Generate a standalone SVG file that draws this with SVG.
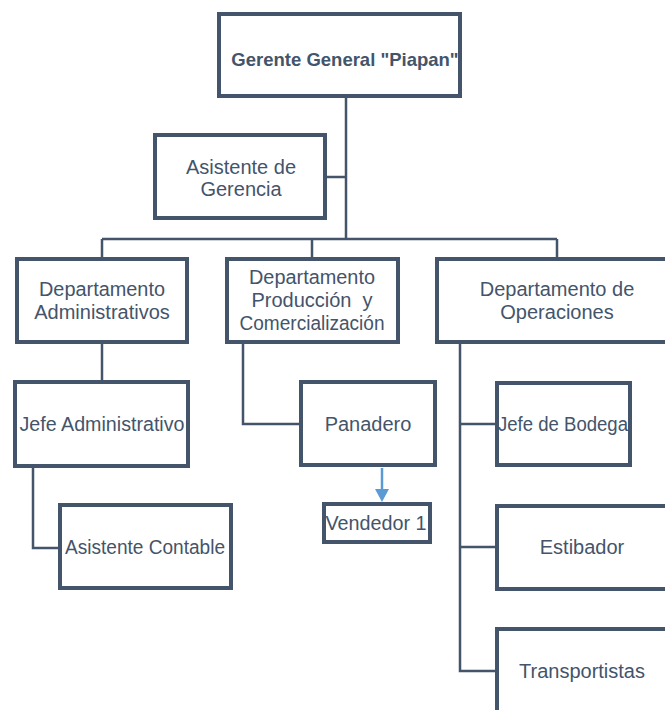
<svg xmlns="http://www.w3.org/2000/svg" width="665" height="710" viewBox="0 0 665 710">
<style>
  .box { fill: #ffffff; stroke: #44546A; stroke-width: 4; }
  .lbl { font-family: "Liberation Sans", Arial, sans-serif; font-size: 20px; fill: #44546A; text-anchor: middle; white-space: pre; }
  .bold { font-weight: bold; font-size: 18.5px; }
  .conn { fill: none; stroke: #44546A; stroke-width: 2.5; }
  .arrow { fill: none; stroke: #5B9BD5; stroke-width: 2.5; }
</style>
<rect width="665" height="710" fill="#ffffff"/>
<g id="connectors">
  <path class="conn" d="M346 98 V239"/>
  <path class="conn" d="M327 177 H346"/>
  <path class="conn" d="M102 239 H557"/>
  <path class="conn" d="M102 239 V258 M312 239 V258 M557 239 V258"/>
  <path class="conn" d="M102 343 V381"/>
  <path class="conn" d="M33 467 V548 H59"/>
  <path class="conn" d="M243 343 V424 H300"/>
  <path class="conn" d="M460 343 V671 H496 M460 424 H496 M460 547 H496"/>
  <path class="arrow" d="M382 468 V490"/>
  <polygon points="375,489 389,489 382,502" fill="#5B9BD5"/>
</g>
<g id="gerente">
  <rect class="box" x="219" y="14" width="241" height="82"/>
  <text class="lbl bold" x="345" y="66">Gerente General "Piapan"</text>
</g>
<g id="asistente-gerencia">
  <rect class="box" x="155" y="135" width="170" height="83"/>
  <text class="lbl" x="241" y="174">Asistente de</text>
  <text class="lbl" x="241" y="196">Gerencia</text>
</g>
<g id="dep-administrativos">
  <rect class="box" x="17" y="259" width="170" height="83"/>
  <text class="lbl" x="102" y="296" textLength="126" lengthAdjust="spacingAndGlyphs">Departamento</text>
  <text class="lbl" x="102" y="319">Administrativos</text>
</g>
<g id="dep-produccion">
  <rect class="box" x="227" y="259" width="171" height="83"/>
  <text class="lbl" x="312" y="284" textLength="126" lengthAdjust="spacingAndGlyphs">Departamento</text>
  <text class="lbl" x="312" y="307" xml:space="preserve">Producción  y</text>
  <text class="lbl" x="312" y="330" textLength="145" lengthAdjust="spacingAndGlyphs">Comercialización</text>
</g>
<g id="dep-operaciones">
  <rect class="box" x="437" y="259" width="240" height="83"/>
  <text class="lbl" x="557" y="296">Departamento de</text>
  <text class="lbl" x="557" y="319">Operaciones</text>
</g>
<g id="jefe-administrativo">
  <rect class="box" x="15" y="382" width="173" height="84"/>
  <text class="lbl" x="102" y="431" textLength="165" lengthAdjust="spacingAndGlyphs">Jefe Administrativo</text>
</g>
<g id="asistente-contable">
  <rect class="box" x="60" y="505" width="171" height="83"/>
  <text class="lbl" x="145" y="554" textLength="160" lengthAdjust="spacingAndGlyphs">Asistente Contable</text>
</g>
<g id="panadero">
  <rect class="box" x="301" y="382" width="134" height="83"/>
  <text class="lbl" x="368" y="431">Panadero</text>
</g>
<g id="vendedor">
  <rect class="box" x="324" y="504" width="106" height="38"/>
  <text class="lbl" x="376" y="530" textLength="101" lengthAdjust="spacingAndGlyphs">Vendedor 1</text>
</g>
<g id="jefe-bodega">
  <rect class="box" x="497" y="383" width="133" height="82"/>
  <text class="lbl" x="563" y="431" textLength="130" lengthAdjust="spacingAndGlyphs">Jefe de Bodega</text>
</g>
<g id="estibador">
  <rect class="box" x="497" y="506" width="171" height="83"/>
  <text class="lbl" x="582" y="554">Estibador</text>
</g>
<g id="transportistas">
  <rect class="box" x="497" y="629" width="171" height="100"/>
  <text class="lbl" x="582" y="678">Transportistas</text>
</g>
</svg>
